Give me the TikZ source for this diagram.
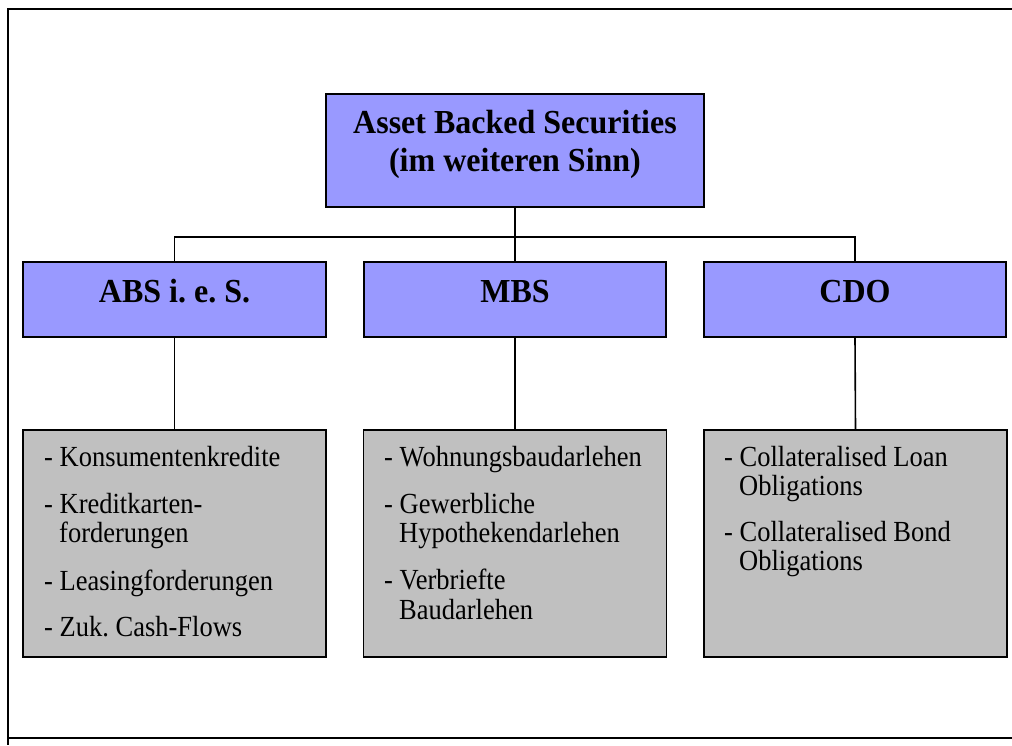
\documentclass[tikz,border=0pt]{standalone}
\usepackage{fontspec}
\usepackage{graphicx}
\setmainfont{Liberation Serif}
\frenchspacing
\definecolor{boxblue}{HTML}{9999FF}
\definecolor{boxgray}{HTML}{C0C0C0}
\newcommand{\itl}[1]{\scalebox{1}[1.1]{#1}}
\newcommand{\hdl}[1]{\scalebox{1}[1.05]{#1}}
\begin{document}
\begin{tikzpicture}[x=1pt,y=-1pt,
  framel/.style={line width=2.2pt,draw=black},
  conn/.style={line width=1.6pt,draw=black},
  bluebox/.style={draw=black,line width=1.8pt,fill=boxblue,inner sep=0pt,rectangle},
  graybox/.style={draw=black,line width=1.8pt,fill=boxgray,inner sep=0pt,rectangle,minimum width=303pt,minimum height=227pt},
  headtxt/.style={anchor=base,inner sep=0pt,font=\fontsize{32}{38}\selectfont\bfseries},
  itemtxt/.style={anchor=base west,inner sep=0pt,font=\fontsize{26.5}{30}\selectfont}]
\useasboundingbox (0,0) rectangle (1012,745);
% outer frame
\draw[framel] (1012,9) -- (8,9) -- (8,745);
\draw[framel] (8,738) -- (1012,738);
% boxes
\node[bluebox,minimum width=378pt,minimum height=113pt] (top) at (515,150.5) {};
\node[bluebox,minimum width=303pt,minimum height=75pt] (abs) at (174.5,299.5) {};
\node[bluebox,minimum width=302pt,minimum height=75pt] (mbs) at (515,299.5) {};
\node[bluebox,minimum width=302pt,minimum height=75pt] (cdo) at (855,299.5) {};
\node[graybox] (absl) at (174.5,543.5) {};
\node[graybox] (mbsl) at (515,543.5) {};
\node[graybox] (cdol) at (855.5,543.5) {};
% connectors
\coordinate (bus) at (515,237);
\draw[conn] (top.south) -- (mbs.north);
\draw[conn] (abs.north) |- (bus) -| (cdo.north);
\draw[conn] (abs.south) -- (absl.north);
\draw[conn] (mbs.south) -- (mbsl.north);
\draw[conn] (cdo.south) -- (cdol.north);
% headings
\node[headtxt] (t1) at (515,133) {\hdl{Asset Backed Securities}};
\node[headtxt] (t2) at (515,171) {\hdl{(im weiteren Sinn)}};
\node[headtxt] (abst) at (174.5,302) {\hdl{ABS i. e. S.}};
\node[headtxt] (mbst) at (515,302) {\hdl{MBS}};
\node[headtxt] (cdot) at (855,302) {\hdl{CDO}};
% ABS list
\node[itemtxt] (a1) at (44,466) {\itl{- Konsumentenkredite}};
\node[itemtxt] (a2) at (44,513) {\itl{- Kreditkarten-}};
\node[itemtxt] (a3) at (59,542) {\itl{forderungen}};
\node[itemtxt] (a4) at (44,590) {\itl{- Leasingforderungen}};
\node[itemtxt] (a5) at (44,636) {\itl{- Zuk. Cash-Flows}};
% MBS list
\node[itemtxt] (m1) at (384,466) {\itl{- Wohnungsbaudarlehen}};
\node[itemtxt] (m2) at (384,513) {\itl{- Gewerbliche}};
\node[itemtxt] (m3) at (399,542) {\itl{Hypothekendarlehen}};
\node[itemtxt] (m4) at (384,589) {\itl{- Verbriefte}};
\node[itemtxt] (m5) at (399,619) {\itl{Baudarlehen}};
% CDO list
\node[itemtxt] (c1) at (724,466) {\itl{- Collateralised Loan}};
\node[itemtxt] (c2) at (739,495) {\itl{Obligations}};
\node[itemtxt] (c3) at (724,541) {\itl{- Collateralised Bond}};
\node[itemtxt] (c4) at (739,570) {\itl{Obligations}};
\end{tikzpicture}
\end{document}
